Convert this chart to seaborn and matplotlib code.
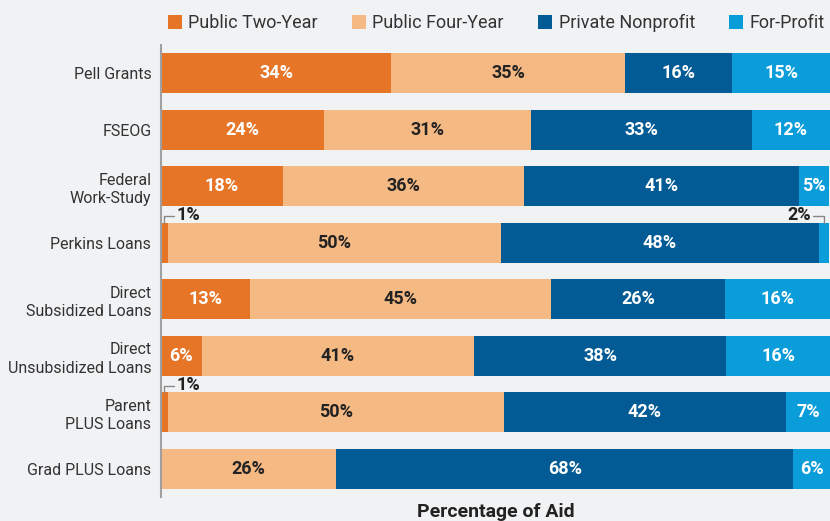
import matplotlib
matplotlib.use("Agg")
import matplotlib.pyplot as plt
import seaborn as sns
import pandas as pd
import numpy as np
from matplotlib.patches import Patch

categories = ["Pell Grants", "FSEOG", "Federal\nWork-Study", "Perkins Loans",
              "Direct\nSubsidized Loans", "Direct\nUnsubsidized Loans",
              "Parent\nPLUS Loans", "Grad PLUS Loans"]
series_names = ["Public Two-Year", "Public Four-Year", "Private Nonprofit", "For-Profit"]
public_two = [34.4, 24.4, 18.2, 1.0, 13.3, 6.1, 1.0, 0.0]
public_four = [35.0, 30.9, 36.0, 49.8, 45.0, 40.7, 50.2, 26.2]
private_np = [16.0, 33.0, 41.1, 47.5, 26.0, 37.7, 42.2, 68.3]
for_profit = [14.6, 11.7, 4.6, 1.6, 15.7, 15.5, 6.6, 5.5]
colors = ["#E67527", "#F5B984", "#035B95", "#0B9CDA"]
text_colors = ["white", "#222222", "white", "white"]

sns.set_theme(style="white")
plt.rcParams["font.family"] = ["Roboto", "DejaVu Sans"]
bg = "#F1F2F4"

fig = plt.figure(figsize=(8.3, 5.21), dpi=100, facecolor=bg)
ax = fig.add_axes([161 / 830, 1 - 497 / 521, 1 - 161 / 830, (497 - 45) / 521])
ax.set_facecolor(bg)

vals = np.array([public_two, public_four, private_np, for_profit])
cum = np.cumsum(vals, axis=0)
starts = cum - vals

# draw cumulative layers, largest first
for k in range(3, -1, -1):
    df = pd.DataFrame({"cat": categories, "v": cum[k]})
    sns.barplot(data=df, x="v", y="cat", order=categories, color=colors[k],
                width=0.71, saturation=1, ax=ax, linewidth=0, orient="h")

half = 0.355
for i in range(len(categories)):
    for k in range(4):
        v = vals[k, i]
        if v <= 0:
            continue
        lab = f"{int(np.floor(v + 0.5))}%"
        if v >= 3:
            ax.text(starts[k, i] + v / 2, i, lab, ha="center", va="center",
                    color=text_colors[k], fontsize=13, fontweight="bold")
        else:
            xc = starts[k, i] + v / 2
            top = i - half
            ytop = top - 0.11
            if k == 0:
                ax.plot([xc, xc, xc + 1.4], [top, ytop, ytop], color="#888888",
                        lw=1, clip_on=False)
                ax.text(xc + 1.8, ytop - 0.02, lab, ha="left", va="center",
                        color="#222222", fontsize=13, fontweight="bold")
            else:
                ax.plot([xc, xc, xc - 1.7], [top, ytop, ytop], color="#888888",
                        lw=1, clip_on=False)
                ax.text(xc - 2.0, ytop - 0.02, lab, ha="right", va="center",
                        color="#222222", fontsize=13, fontweight="bold")

ax.set_xlim(0, 100)
ax.set_ylim(7.5, -0.5)
ax.set_ylabel("")
ax.set_xlabel("Percentage of Aid", fontsize=14, fontweight="bold",
              color="#222222", labelpad=4)
ax.set_xticks([])
ax.tick_params(axis="y", length=0, pad=7, labelsize=11.5, labelcolor="#333333")
for lbl in ax.get_yticklabels():
    lbl.set_linespacing(1.3)
for s in ["top", "right", "bottom"]:
    ax.spines[s].set_visible(False)
ax.spines["left"].set_color("#A0A0A0")
ax.spines["left"].set_linewidth(1.5)

handles = [Patch(facecolor=c, edgecolor="none") for c in colors]
fig.legend(handles, series_names, loc="center", bbox_to_anchor=(0.598, 0.955),
           ncol=4, frameon=False, fontsize=13, handlelength=0.78,
           handleheight=0.78, handletextpad=0.35, columnspacing=1.9,
           labelcolor="#333333")

fig.savefig("out.png", dpi=100, facecolor=bg)
